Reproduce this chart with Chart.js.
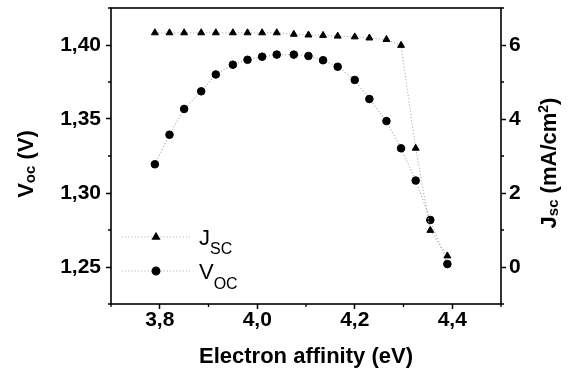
<!DOCTYPE html>
<html>
<head>
<meta charset="utf-8">
<script src="https://cdn.jsdelivr.net/npm/chart.js@4.4.1/dist/chart.umd.min.js"></script>
<style>
  body { margin: 0; background: #fff; }
  #wrap { width: 571px; height: 372px; position: relative; }
</style>
</head>
<body>
<div id="wrap"><canvas id="chart"></canvas></div>
<script>
// electron affinity (eV) and the two device outputs
const energy = [3.79, 3.82, 3.85, 3.885, 3.915, 3.95, 3.98, 4.01, 4.04, 4.075,
                4.105, 4.135, 4.165, 4.20, 4.23, 4.265, 4.295, 4.325, 4.355, 4.39];
const voc = [1.3194, 1.3394, 1.3568, 1.3687, 1.3801, 1.3867, 1.3900, 1.3921, 1.3935, 1.3935,
             1.3926, 1.3897, 1.3853, 1.3764, 1.3635, 1.3486, 1.3302, 1.3084, 1.2818, 1.2520];
const jsc = [6.33, 6.33, 6.33, 6.33, 6.33, 6.33, 6.33, 6.33, 6.33, 6.29,
             6.27, 6.26, 6.24, 6.22, 6.19, 6.15, 5.99, 3.21, 0.99, 0.30];

const xTicks = [3.8, 4.0, 4.2, 4.4];
const xMinor = [3.7, 3.9, 4.1, 4.3, 4.5];
const vocTicks = [1.25, 1.30, 1.35, 1.40];
const vocMinor = [1.225, 1.275, 1.325, 1.375, 1.425];
const jscTicks = [0, 2, 4, 6];
const jscMinor = [-1, 1, 3, 5, 7];

const FONT = "'Liberation Sans', Arial, sans-serif";

function pts(ys) {
    return energy.map((x, i) => ({x: x, y: ys[i]}))
}

function comma(v, d) {
    return v.toFixed(d).replace('.', ',')
}

// draws text made of parts [text, size, dy] starting at x, baseline y
function drawParts(ctx, parts, x, y, weight) {
    let cx = x
    parts.forEach(p => {
        ctx.font = weight + ' ' + p[1] + 'px ' + FONT
        ctx.fillText(p[0], cx, y + p[2])
        cx += ctx.measureText(p[0]).width
    })
    return cx - x
}

function partsWidth(ctx, parts, weight) {
    let w = 0
    parts.forEach(p => {
        ctx.font = weight + ' ' + p[1] + 'px ' + FONT
        w += ctx.measureText(p[0]).width
    })
    return w
}

function noPad(s) {
    s.paddingTop = 0; s.paddingBottom = 0; s.paddingLeft = 0; s.paddingRight = 0
}

const extras = {
    id: 'extras',
    afterDraw(chart) {
        const ctx = chart.ctx
        const ca = chart.chartArea
        const sx = chart.scales.x, sy = chart.scales.y, sy2 = chart.scales.y2
        ctx.save()
        ctx.strokeStyle = '#000'
        ctx.fillStyle = '#000'

        // frame
        ctx.lineWidth = 1.6
        ctx.strokeRect(ca.left, ca.top, ca.right - ca.left, ca.bottom - ca.top)

        // minor ticks
        ctx.lineWidth = 1.3
        ctx.beginPath()
        xMinor.forEach(v => {
            const p = sx.getPixelForValue(v)
            ctx.moveTo(p, ca.bottom); ctx.lineTo(p, ca.bottom + 3)
        })
        vocMinor.forEach(v => {
            const p = sy.getPixelForValue(v)
            ctx.moveTo(ca.left, p); ctx.lineTo(ca.left - 3, p)
        })
        jscMinor.forEach(v => {
            const p = sy2.getPixelForValue(v)
            ctx.moveTo(ca.right, p); ctx.lineTo(ca.right + 3, p)
        })
        ctx.stroke()

        // axis titles
        ctx.textBaseline = 'alphabetic'
        ctx.textAlign = 'left'
        const xt = [['Electron affinity (eV)', 22, 0]]
        let w = partsWidth(ctx, xt, 'bold')
        drawParts(ctx, xt, (ca.left + ca.right) / 2 - w / 2, 363, 'bold')

        const lt = [['V', 22, 0], ['oc', 15, 2], [' (V)', 22, 0]]
        w = partsWidth(ctx, lt, 'bold')
        ctx.save()
        ctx.translate(33, 164)
        ctx.rotate(-Math.PI / 2)
        drawParts(ctx, lt, -w / 2, 0, 'bold')
        ctx.restore()

        const rt = [['J', 22, 0], ['sc', 15, 2], [' (mA/cm', 22, 0], ['2', 14, -8], [')', 22, 0]]
        w = partsWidth(ctx, rt, 'bold')
        ctx.save()
        ctx.translate(556, 163)
        ctx.rotate(-Math.PI / 2)
        drawParts(ctx, rt, -w / 2, 0, 'bold')
        ctx.restore()

        // legend
        const rows = [
            {ds: 0, parts: [['J', 22, 0], ['SC', 16, 9]], y: 237},
            {ds: 1, parts: [['V', 22, 0], ['OC', 16, 10]], y: 271}
        ]
        rows.forEach(r => {
            const d = chart.data.datasets[r.ds]
            ctx.save()
            ctx.strokeStyle = d.borderColor
            ctx.lineWidth = d.borderWidth
            ctx.setLineDash(d.borderDash)
            ctx.beginPath()
            ctx.moveTo(ca.left + 11, r.y); ctx.lineTo(ca.left + 79, r.y)
            ctx.stroke()
            ctx.restore()
            ctx.fillStyle = '#000'
            ctx.strokeStyle = '#000'
            Chart.helpers.drawPoint(ctx, {
                pointStyle: d.pointStyle, radius: d.pointRadius,
                borderWidth: d.pointBorderWidth, rotation: 0
            }, ca.left + 45, r.y)
            ctx.fillStyle = '#000'
            drawParts(ctx, r.parts, ca.left + 88, r.y + 8, 'normal')
        })
        ctx.restore()
    }
}

const config = {
    type: 'line',
    data: {
        datasets: [{
            label: 'Jsc',
            data: pts(jsc),
            yAxisID: 'y2',
            borderColor: '#b8b8b8',
            borderWidth: 1.2,
            borderDash: [1.2, 2],
            pointStyle: 'triangle',
            pointRadius: 4,
            pointBorderWidth: 1,
            pointBackgroundColor: '#000',
            pointBorderColor: '#000',
            tension: 0
        }, {
            label: 'Voc',
            data: pts(voc),
            yAxisID: 'y',
            borderColor: '#b8b8b8',
            borderWidth: 1.2,
            borderDash: [1.2, 2],
            pointStyle: 'circle',
            pointRadius: 3.8,
            pointBorderWidth: 1,
            pointBackgroundColor: '#000',
            pointBorderColor: '#000',
            tension: 0
        }]
    },
    options: {
        responsive: true,
        maintainAspectRatio: false,
        animation: false,
        layout: {padding: {top: 8, left: 0, right: 0, bottom: 0}},
        plugins: {legend: {display: false}, tooltip: {enabled: false}},
        scales: {
            x: {
                type: 'linear',
                min: 3.7, max: 4.5,
                afterFit(s) { s.height = 68; noPad(s) },
                afterBuildTicks(s) { s.ticks = xTicks.map(v => ({value: v})) },
                border: {display: false},
                grid: {drawOnChartArea: false, tickLength: 5, tickWidth: 1.5, tickColor: '#000'},
                ticks: {
                    padding: -1,
                    color: '#000',
                    font: {family: FONT, size: 21, weight: 'bold'},
                    callback: v => comma(v, 1)
                }
            },
            y: {
                position: 'left',
                min: 1.225, max: 1.425,
                afterFit(s) { s.width = 111; noPad(s) },
                afterBuildTicks(s) { s.ticks = vocTicks.map(v => ({value: v})) },
                border: {display: false},
                grid: {drawOnChartArea: false, tickLength: 5, tickWidth: 1.5, tickColor: '#000'},
                ticks: {
                    padding: 5,
                    color: '#000',
                    font: {family: FONT, size: 21, weight: 'bold'},
                    callback: v => comma(v, 2)
                }
            },
            y2: {
                position: 'right',
                min: -1, max: 7,
                afterFit(s) { s.width = 70; noPad(s) },
                afterBuildTicks(s) { s.ticks = jscTicks.map(v => ({value: v})) },
                border: {display: false},
                grid: {drawOnChartArea: false, tickLength: 5, tickWidth: 1.5, tickColor: '#000'},
                ticks: {
                    padding: 3,
                    color: '#000',
                    font: {family: FONT, size: 21, weight: 'bold'},
                    callback: v => String(v)
                }
            }
        }
    },
    plugins: [extras]
}

new Chart(document.getElementById('chart').getContext('2d'), config)
</script>
</body>
</html>
